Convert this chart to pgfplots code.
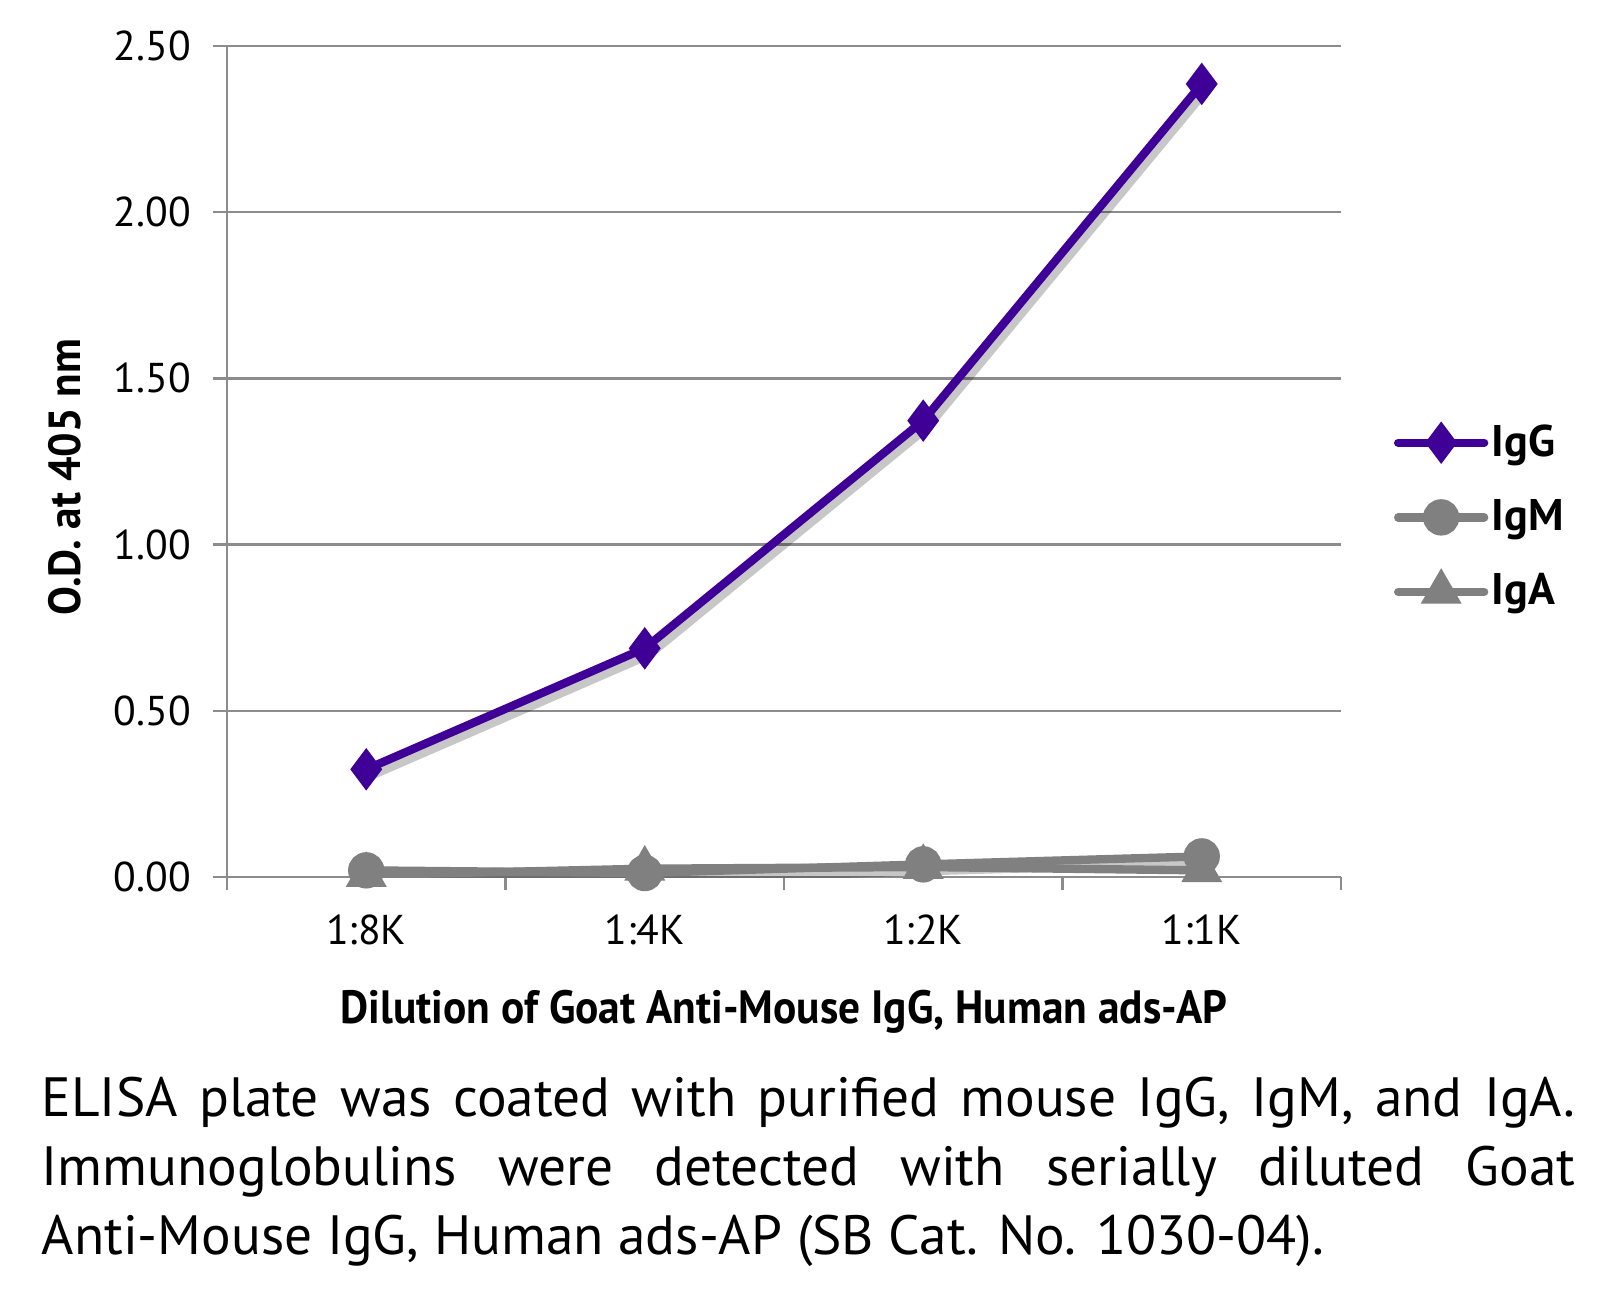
\documentclass[border=0pt]{standalone}
\usepackage{fontspec}
\setmainfont{PT Sans}
\usepackage{pgfplots}
\pgfplotsset{compat=1.18}
\definecolor{igg}{HTML}{3F0097}
\definecolor{ggray}{HTML}{808080}
\definecolor{gridc}{HTML}{8C8C8C}
\begin{document}
\begin{tikzpicture}
\useasboundingbox (-68.1pt,-128.7pt) rectangle (414.6pt,263.1pt);
\begin{axis}[
  at={(0pt,0pt)}, anchor=south west,
  scale only axis, width=334.2pt, height=249.3pt,
  xmin=-0.5, xmax=3.5, ymin=0, ymax=2.5,
  axis x line*=bottom, axis y line*=left,
  axis line style={gridc, line width=0.8pt, -},
  ytick={0,0.5,1,1.5,2,2.5},
  yticklabel style={/pgf/number format/.cd, fixed, fixed zerofill, precision=2, /tikz/.cd, font=\fontsize{12.5}{14}\selectfont, xshift=-3pt},
  /pgf/number format/assume math mode=true,
  ymajorgrids, grid style={gridc, line width=0.7pt},
  xtick={0,1,2,3}, xticklabels={1:8K,1:4K,1:2K,1:1K},
  xticklabel style={font=\fontsize{12.5}{14}\selectfont, yshift=-3.5pt},
  minor xtick={-0.5,0.5,1.5,2.5,3.5},
  tick align=outside, major tick length=4.3pt, minor tick length=4pt,
  major x tick style={draw=none},
  minor x tick style={gridc, line width=0.7pt},
  major y tick style={gridc, line width=0.7pt},
  xlabel={\scalebox{0.93}[1]{\bfseries\fontsize{14}{16}\selectfont Dilution of Goat Anti-Mouse IgG, Human ads-AP}},
  x label style={at={(axis description cs:0.5,0)}, anchor=base, yshift=-43.8pt},
  ylabel={\scalebox{0.96}[1]{\bfseries\fontsize{13.5}{15}\selectfont O.D. at 405 nm}},
  y label style={at={(axis description cs:-0.1457,0.481)}, anchor=center},
  legend style={at={(axis description cs:1.047,0.433)}, anchor=west, draw=none, fill=none,
    font=\bfseries\fontsize{13.3}{15}\selectfont, row sep=9.5pt, inner sep=0pt, nodes={inner sep=1pt}},
  legend cell align=left,
  legend image code/.code={\draw[mark repeat=2,mark phase=2,line cap=round,#1] plot coordinates {(0pt,0pt)(12.9pt,0pt)(25.8pt,0pt)};},
]
% shadows
\addplot[black, opacity=0.22, line width=2.6pt, xshift=1.2pt, yshift=-2pt, forget plot] coordinates {(0,0.324) (1,0.688) (2,1.373) (3,2.386)};
\addplot[igg, line width=2.5pt, mark=diamond*, mark size=4.3pt, mark options={fill=igg, solid}] coordinates {(0,0.324) (1,0.688) (2,1.373) (3,2.386)};
\addlegendentry{IgG}
\addplot[black, opacity=0.22, line width=2.6pt, xshift=1.2pt, yshift=-2pt, forget plot] coordinates {(0,0.020) (1,0.012) (2,0.038) (3,0.062)};
\addplot[ggray, line width=2.5pt, mark=*, mark size=4.2pt, mark options={fill=ggray, solid}] coordinates {(0,0.020) (1,0.012) (2,0.038) (3,0.062)};
\addlegendentry{IgM}
\addplot[ggray, line width=2.5pt, mark=triangle*, mark size=4.6pt, mark options={fill=ggray, solid}] coordinates {(0,0.006) (1,0.025) (2,0.030) (3,0.020)};
\addlegendentry{IgA}
\end{axis}
\node[anchor=base west, text width=460.2pt, align=justify, inner sep=0pt, font=\fontsize{16.6}{20.7}\selectfont] at (-55.8pt,-71.8pt)
{ELISA plate was coated with purified mouse IgG, IgM, and IgA.\linebreak Immunoglobulins were detected with serially diluted Goat\linebreak Anti-Mouse IgG, Human ads-AP (SB Cat. No. 1030-04).};
\end{tikzpicture}
\end{document}
